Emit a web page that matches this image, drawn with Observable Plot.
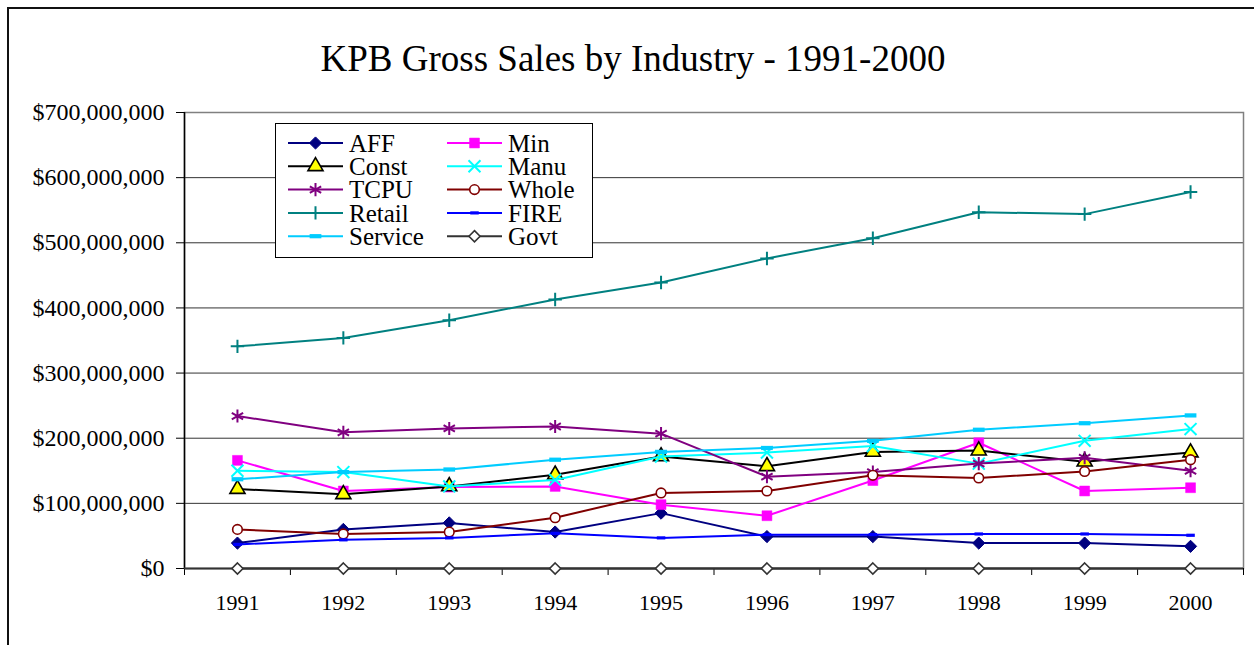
<!DOCTYPE html>
<html><head><meta charset="utf-8">
<script src="https://cdn.jsdelivr.net/npm/d3@7"></script>
<script src="https://cdn.jsdelivr.net/npm/@observablehq/plot@0.6"></script>
<style>
html,body{margin:0;padding:0;background:#fff;overflow:hidden}
#wrap{position:relative;width:1254px;height:645px;font-family:"Liberation Serif","Times New Roman",serif;overflow:hidden}
#border{position:absolute;left:7px;top:7px;width:1270px;height:660px;border:2px solid #111;box-sizing:border-box}
#title{position:absolute;left:0;width:1266px;top:40px;text-align:center;font-size:37px;line-height:1;color:#000}
#chart{position:absolute;left:0;top:0}
#legend{position:absolute;left:275px;top:123px;width:318px;height:135px;border:1.5px solid #000;background:#fff;box-sizing:border-box}
</style></head><body>
<div id="wrap"><div id="border"></div><div id="chart"></div><div id="title">KPB Gross Sales by Industry - 1991-2000</div><div id="legend"></div></div>
<script>
// ---- data ----
const years = [1991, 1992, 1993, 1994, 1995, 1996, 1997, 1998, 1999, 2000];
const AFF     = [39e6, 60e6, 70e6, 56e6, 85e6, 49e6, 49e6, 39e6, 39e6, 34e6];
const Min     = [166e6, 119e6, 125e6, 126e6, 98e6, 81e6, 135e6, 193e6, 119e6, 124e6];
const Const   = [122e6, 114e6, 126e6, 144e6, 172e6, 157e6, 179e6, 181e6, 164e6, 178e6];
const Manu    = [150e6, 148e6, 126e6, 136e6, 172e6, 178e6, 188e6, 161e6, 196e6, 214e6];
const TCPU    = [234e6, 209e6, 215e6, 218e6, 207e6, 141e6, 148e6, 161e6, 170e6, 150e6];
const Whole   = [60e6, 53e6, 56e6, 78e6, 116e6, 119e6, 143e6, 139e6, 149e6, 167e6];
const Retail  = [341e6, 354e6, 381e6, 413e6, 439e6, 476e6, 507e6, 547e6, 544e6, 578e6];
const FIRE    = [37e6, 44e6, 47e6, 54e6, 47e6, 52e6, 52e6, 53e6, 53e6, 51e6];
const Service = [137e6, 148e6, 152e6, 167e6, 179e6, 185e6, 196e6, 213e6, 223e6, 235e6];
const Govt    = [0, 0, 0, 0, 0, 0, 0, 0, 0, 0];
const seriesNames = ["AFF", "Min", "Const", "Manu", "TCPU", "Whole", "Retail", "FIRE", "Service", "Govt"];
const seriesValues = [AFF, Min, Const, Manu, TCPU, Whole, Retail, FIRE, Service, Govt];
const yTicks = [0, 1e8, 2e8, 3e8, 4e8, 5e8, 6e8, 7e8];
const titleText = "KPB Gross Sales by Industry - 1991-2000";

// ---- styles ----
const dash = (wf, hf) => ({draw(ctx, size) { const s = Math.sqrt(size); const w = s * wf, h = s * hf; ctx.rect(-w / 2, -h / 2, w, h); }});
const styles = {
  AFF:     {color: "#000080", symbol: d3.symbolDiamond2, fill: "#000080", stroke: "#000080", sw: 1, r: 5.5},
  Min:     {color: "#FF00FF", symbol: d3.symbolSquare, fill: "#FF00FF", stroke: "#FF00FF", sw: 0.5, r: 5.6},
  Const:   {color: "#000000", symbol: d3.symbolTriangle, fill: "#FFFF00", stroke: "#000000", sw: 1.6, r: 5.6},
  Manu:    {color: "#00FFFF", symbol: d3.symbolTimes, fill: "none", stroke: "#00FFFF", sw: 2, r: 5.5},
  TCPU:    {color: "#800080", symbol: d3.symbolAsterisk, fill: "none", stroke: "#800080", sw: 2, r: 6.2},
  Whole:   {color: "#800000", symbol: d3.symbolCircle, fill: "#FFFFFF", stroke: "#800000", sw: 1.6, r: 4.8},
  Retail:  {color: "#008080", symbol: d3.symbolPlus, fill: "none", stroke: "#008080", sw: 2, r: 4.4},
  FIRE:    {color: "#0000FF", symbol: dash(1.2, 0.45), fill: "#0000FF", stroke: "none", sw: 0, r: 4},
  Service: {color: "#00CCFF", symbol: dash(1.25, 0.45), fill: "#00CCFF", stroke: "none", sw: 0, r: 5.3},
  Govt:    {color: "#333333", symbol: d3.symbolDiamond2, fill: "#FFFFFF", stroke: "#333333", sw: 1.6, r: 5}
};

const rows = [];
seriesNames.forEach((name, k) => years.forEach((yr, i) => rows.push({name, year: yr, value: seriesValues[k][i]})));

const fmt = d => "$" + d3.format(",")(d);
const boundaries = [...years.map(y => y - 0.5), years[years.length - 1] + 0.5];

const marks = [
  Plot.ruleY(yTicks.slice(1, -1), {stroke: "#333", strokeWidth: 1}),
  Plot.frame({stroke: "#808080", strokeWidth: 1.5}),
  Plot.axisY({ticks: yTicks, tickSize: 8, tickPadding: 12, tickFormat: fmt, fontSize: 24, label: null}),
  Plot.axisX({ticks: boundaries, tickSize: 7, tickFormat: () => "", label: null}),
  Plot.axisX({ticks: years, tickSize: 0, tickPadding: 26, tickFormat: d => String(d), fontSize: 22, label: null}),
  Plot.ruleX([boundaries[0]], {stroke: "#000", strokeWidth: 1.5}),
  Plot.ruleY([0], {stroke: "#333", strokeWidth: 2})
];
seriesNames.forEach(name => {
  const st = styles[name];
  const data = rows.filter(d => d.name === name);
  marks.push(Plot.line(data, {x: "year", y: "value", stroke: st.color, strokeWidth: 2, strokeLinejoin: "round"}));
  marks.push(Plot.dot(data, {x: "year", y: "value", symbol: st.symbol, r: st.r, fill: st.fill, stroke: st.stroke, strokeWidth: st.sw}));
});

const chart = Plot.plot({
  width: 1254, height: 645,
  marginLeft: 184, marginRight: 11, marginTop: 112, marginBottom: 77,
  x: {domain: [boundaries[0], boundaries[boundaries.length - 1]]},
  y: {domain: [0, 7e8]},
  style: {fontFamily: '"Liberation Serif", "Times New Roman", serif', fontSize: "22px", color: "#000", background: "transparent", overflow: "visible"},
  marks
});
document.getElementById("chart").appendChild(chart);
document.getElementById("title").textContent = titleText;

// ---- legend ----
const lsvg = d3.select("#legend").append("svg").attr("width", 316).attr("height", 133)
  .style("font-family", '"Liberation Serif", "Times New Roman", serif');
seriesNames.forEach((name, i) => {
  const st = styles[name];
  const col = i % 2, row = Math.floor(i / 2);
  const x0 = col === 0 ? 12 : 171;
  const y = 19 + row * 23.3;
  const g = lsvg.append("g").attr("transform", `translate(${x0},${y})`);
  g.append("line").attr("x1", 0).attr("x2", 55).attr("stroke", st.color).attr("stroke-width", 2);
  g.append("path").attr("transform", "translate(27.5,0)")
    .attr("d", d3.symbol(st.symbol, Math.PI * st.r * st.r)())
    .attr("fill", st.fill).attr("stroke", st.stroke).attr("stroke-width", st.sw);
  g.append("text").attr("x", 61).attr("dy", "0.35em").attr("font-size", 25).text(name);
});
</script>
</body></html>
